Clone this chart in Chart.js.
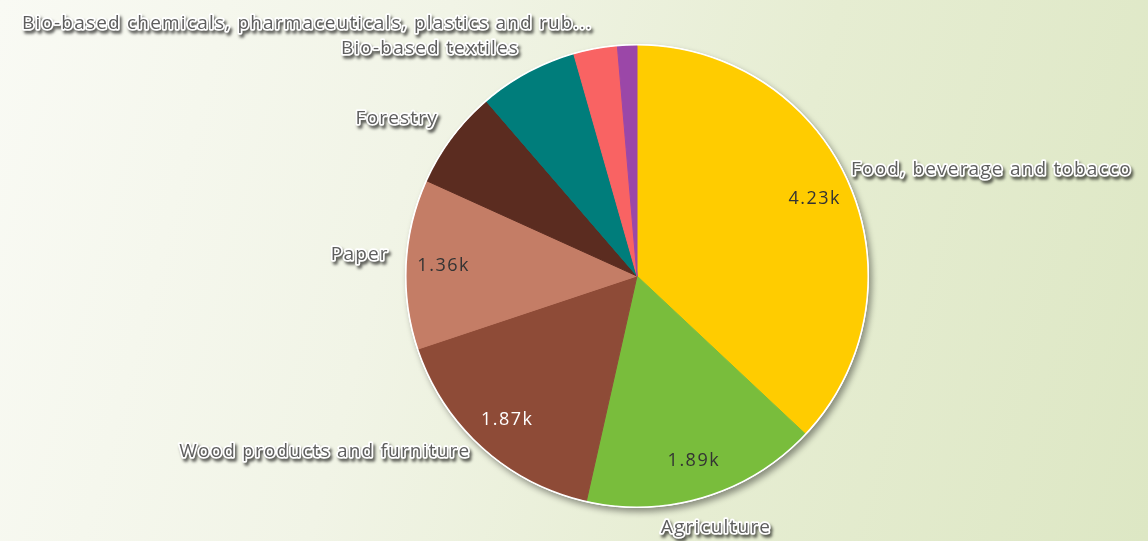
<!DOCTYPE html>
<html>
<head>
<meta charset="utf-8">
<script src="https://cdn.jsdelivr.net/npm/chart.js"></script>
<style>
    html, body {
        margin: 0;
        padding: 0;
        width: 1148px;
        height: 541px;
        overflow: hidden;
        background: linear-gradient(105deg, #f9faf4 0%, #f1f4e6 35%, #e6edd2 65%, #dde7c4 100%);
    }
    #wrap {
        position: relative;
        width: 1148px;
        height: 541px;
    }
</style>
</head>
<body>
<div id="wrap">
    <canvas id="pieChart" width="1148" height="541"></canvas>
</div>
<script>
// Sectors, clockwise from 12 o'clock
const sectors = [
    'Food, beverage and tobacco',
    'Agriculture',
    'Wood products and furniture',
    'Paper',
    'Forestry',
    'Bio-based textiles',
    'Bio-based chemicals, pharmaceuticals, plastics and rubber',
    'Other'
];
const sectorValues = [4230, 1890, 1870, 1360, 790, 790, 350, 155];
const sectorColors = ['#ffcc00', '#79bd3c', '#8e4b37', '#c47d66', '#5b2c20', '#007d7b', '#f96363', '#9b47a8'];

const labelFont = '19px "Open Sans"';
const valueFont = '18px "Open Sans"';

function formatK(v) {
    return (v / 1000).toFixed(2) + 'k';
}

// light or dark text depending on slice colour
function isDark(hex) {
    const r = parseInt(hex.substr(1, 2), 16);
    const g = parseInt(hex.substr(3, 2), 16);
    const b = parseInt(hex.substr(5, 2), 16);
    return (0.299 * r + 0.587 * g + 0.114 * b) < 110;
}

// gray text with white halo and soft drop shadow
function haloText(ctx, text, x, y) {
    ctx.save();
    ctx.lineJoin = 'round';
    ctx.shadowColor = 'rgba(0, 0, 0, 0.6)';
    ctx.shadowOffsetX = 2;
    ctx.shadowOffsetY = 3;
    ctx.shadowBlur = 3;
    ctx.strokeStyle = '#ffffff';
    ctx.lineWidth = 3.5;
    ctx.strokeText(text, x, y);
    ctx.shadowColor = 'transparent';
    ctx.fillStyle = '#5e5e5e';
    ctx.fillText(text, x, y);
    ctx.restore();
}

function fitText(ctx, text, maxWidth) {
    if (ctx.measureText(text).width <= maxWidth) return text;
    let t = text;
    while (t.length > 1 && ctx.measureText(t + '...').width > maxWidth) {
        t = t.slice(0, -1);
    }
    return t + '...';
}

// shadow behind the pie and white rim around it
const pieFrame = {
    id: 'pieFrame',
    beforeDatasetsDraw(chart) {
        const arc = chart.getDatasetMeta(0).data[0];
        if (!arc) return;
        const ctx = chart.ctx;
        ctx.save();
        ctx.shadowColor = 'rgba(0, 0, 0, 0.4)';
        ctx.shadowOffsetX = 3;
        ctx.shadowOffsetY = 4;
        ctx.shadowBlur = 6;
        ctx.fillStyle = '#ffffff';
        ctx.beginPath();
        ctx.arc(arc.x, arc.y, arc.outerRadius + 1.5, 0, Math.PI * 2);
        ctx.fill();
        ctx.restore();
    },
    afterDatasetsDraw(chart) {
        const arc = chart.getDatasetMeta(0).data[0];
        if (!arc) return;
        const ctx = chart.ctx;
        ctx.save();
        ctx.strokeStyle = '#ffffff';
        ctx.lineWidth = 1.5;
        ctx.beginPath();
        ctx.arc(arc.x, arc.y, arc.outerRadius + 0.75, 0, Math.PI * 2);
        ctx.stroke();
        ctx.restore();
    }
};

// value labels inside big slices, sector names outside
const pieLabels = {
    id: 'pieLabels',
    afterDraw(chart) {
        const ctx = chart.ctx;
        const meta = chart.getDatasetMeta(0);
        const total = sectorValues.reduce((a, b) => a + b, 0);

        meta.data.forEach((arc, i) => {
            const v = sectorValues[i];
            const mid = (arc.startAngle + arc.endAngle) / 2;
            const cos = Math.cos(mid);
            const sin = Math.sin(mid);

            // inner value
            if (v / total > 0.08) {
                const r = arc.outerRadius * 0.84;
                ctx.save();
                ctx.font = valueFont;
                ctx.letterSpacing = '1.5px';
                ctx.textAlign = 'center';
                ctx.textBaseline = 'middle';
                ctx.fillStyle = isDark(sectorColors[i]) ? '#ffffff' : '#333333';
                ctx.fillText(formatK(v), arc.x + r * cos, arc.y + r * sin);
                ctx.restore();
            }

            // outer name
            if (v / total < 0.02) return;
            const ro = arc.outerRadius + 18;
            const x = arc.x + ro * cos;
            const y = arc.y + ro * sin;
            ctx.save();
            ctx.font = labelFont;
            ctx.letterSpacing = '1.2px';
            let text = sectors[i];
            if (Math.abs(cos) < 0.35 && sin > 0) {
                ctx.textAlign = 'center';
                ctx.textBaseline = 'top';
                haloText(ctx, text, x + 6, y + 5);
            } else if (cos >= 0) {
                ctx.textAlign = 'left';
                ctx.textBaseline = 'alphabetic';
                text = fitText(ctx, text, chart.width - x + 14 - 4);
                haloText(ctx, text, x - 14, y - 2);
            } else {
                ctx.textAlign = 'right';
                ctx.textBaseline = 'alphabetic';
                text = fitText(ctx, text, x - 20);
                haloText(ctx, text, x, y - 3);
            }
            ctx.restore();
        });
    }
};

function createPieChart() {
    const ctx = document.getElementById('pieChart');
    return new Chart(ctx, {
        type: 'pie',
        data: {
            labels: sectors,
            datasets: [{
                data: sectorValues,
                backgroundColor: sectorColors,
                borderColor: sectorColors,
                borderWidth: 1
            }]
        },
        options: {
            responsive: false,
            animation: false,
            layout: {
                padding: { left: 406, right: 280, top: 45, bottom: 34 }
            },
            plugins: {
                legend: { display: false },
                tooltip: { enabled: false }
            }
        },
        plugins: [pieFrame, pieLabels]
    });
}

createPieChart();
</script>
</body>
</html>
